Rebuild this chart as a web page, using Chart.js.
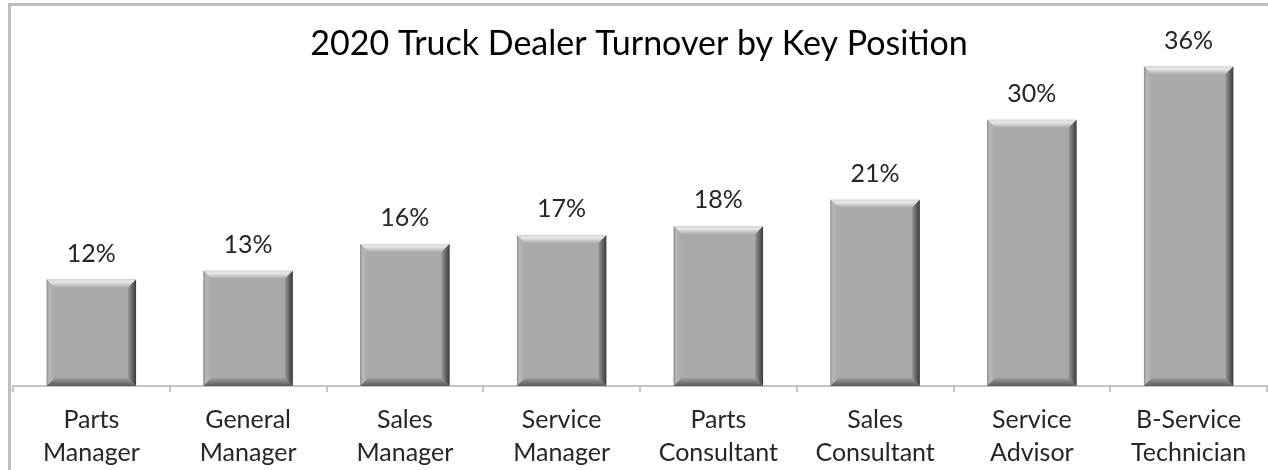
<!DOCTYPE html>
<html>
<head>
<meta charset="utf-8">
<script src="https://cdn.jsdelivr.net/npm/chart.js@4/dist/chart.umd.min.js"></script>
<style>
  html, body { margin: 0; padding: 0; background: #ffffff; }
  #wrap { position: relative; width: 1268px; height: 470px; overflow: hidden; background: #fff; }
  #frame { position: absolute; left: 8px; top: 3px; width: 1400px; height: 600px;
           border-top: 3px solid #b9c2ba; border-left: 3px solid #b9c2ba; }
  #c { position: absolute; left: 0; top: 0; }
</style>
</head>
<body>
<div id="wrap">
  <div id="frame"></div>
  <canvas id="c" width="1268" height="470"></canvas>
</div>
<script>
const chartTitle = "2020 Truck Dealer Turnover by Key Position";
const categories = [
  ["Parts", "Manager"],
  ["General", "Manager"],
  ["Sales", "Manager"],
  ["Service", "Manager"],
  ["Parts", "Consultant"],
  ["Sales", "Consultant"],
  ["Service", "Advisor"],
  ["B-Service", "Technician"]
];
const turnoverPct = [12, 13, 16, 17, 18, 21, 30, 36];
const yMin = 0;
const yMax = 40;

const FONT = "Lato, 'Open Sans', sans-serif";

const bevelPlugin = {
  id: 'bevel',
  afterDatasetsDraw(chart) {
    const ctx = chart.ctx;
    const meta = chart.getDatasetMeta(0);
    meta.data.forEach(bar => {
      const p = bar.getProps(['x', 'y', 'base', 'width'], true);
      const l = p.x - p.width / 2, r = p.x + p.width / 2;
      const t = p.y, b = p.base;
      const s = 8;
      ctx.save();
      let g = ctx.createLinearGradient(0, t, 0, t + s);
      g.addColorStop(0, '#d9d9d9');
      g.addColorStop(0.35, '#e6e6e6');
      g.addColorStop(1, '#ababab');
      ctx.fillStyle = g;
      ctx.beginPath();
      ctx.moveTo(l, t); ctx.lineTo(r, t); ctx.lineTo(r - s, t + s); ctx.lineTo(l + s, t + s); ctx.closePath();
      ctx.fill();
      g = ctx.createLinearGradient(l, 0, l + s, 0);
      g.addColorStop(0, '#8c8c8c');
      g.addColorStop(0.3, '#b8b8b8');
      g.addColorStop(1, '#a9a9a9');
      ctx.fillStyle = g;
      ctx.beginPath();
      ctx.moveTo(l, t); ctx.lineTo(l + s, t + s); ctx.lineTo(l + s, b - s); ctx.lineTo(l, b); ctx.closePath();
      ctx.fill();
      g = ctx.createLinearGradient(r - s, 0, r, 0);
      g.addColorStop(0, '#9a9a9a');
      g.addColorStop(0.6, '#5e5e5e');
      g.addColorStop(1, '#3c3c3c');
      ctx.fillStyle = g;
      ctx.beginPath();
      ctx.moveTo(r, t); ctx.lineTo(r, b); ctx.lineTo(r - s, b - s); ctx.lineTo(r - s, t + s); ctx.closePath();
      ctx.fill();
      g = ctx.createLinearGradient(0, b - s, 0, b);
      g.addColorStop(0, '#9c9c9c');
      g.addColorStop(1, '#5a5a5a');
      ctx.fillStyle = g;
      ctx.beginPath();
      ctx.moveTo(l, b); ctx.lineTo(r, b); ctx.lineTo(r - s, b - s); ctx.lineTo(l + s, b - s); ctx.closePath();
      ctx.fill();
      ctx.restore();
    });
  },
  afterDraw(chart) {
    const ctx = chart.ctx;
    const meta = chart.getDatasetMeta(0);
    ctx.save();
    ctx.fillStyle = '#262626';
    ctx.font = "25px " + FONT;
    ctx.textAlign = 'center';
    ctx.textBaseline = 'alphabetic';
    meta.data.forEach((bar, i) => {
      ctx.fillText(turnoverPct[i] + '%', bar.x, bar.y - 18);
    });
    ctx.fillStyle = '#000000';
    ctx.font = "34px " + FONT;
    ctx.fillText(chartTitle, 639, 55);
    ctx.restore();
  }
};

new Chart(document.getElementById('c'), {
  type: 'bar',
  data: {
    labels: categories,
    datasets: [{
      data: turnoverPct,
      backgroundColor: '#a9a9a9',
      borderWidth: 0,
      categoryPercentage: 1.0,
      barPercentage: 0.57
    }]
  },
  options: {
    responsive: false,
    animation: false,
    devicePixelRatio: 1,
    layout: { padding: { left: 13, right: 1, top: 31, bottom: 0 } },
    plugins: { legend: { display: false }, title: { display: false }, tooltip: { enabled: false } },
    scales: {
      x: {
        offset: true,
        grid: { display: true, offset: true, drawOnChartArea: false, drawTicks: true, tickLength: 6, color: '#bfc8c0', lineWidth: 2 },
        border: { display: true, color: '#bfc8c0', width: 2 },
        ticks: { color: '#262626', font: { family: FONT, size: 25, lineHeight: 1.3 }, padding: 12, maxRotation: 0, autoSkip: false },
        afterFit(scale) { scale.height = 84; }
      },
      y: {
        display: false,
        min: yMin,
        max: yMax
      }
    }
  },
  plugins: [bevelPlugin]
});
</script>
</body>
</html>
